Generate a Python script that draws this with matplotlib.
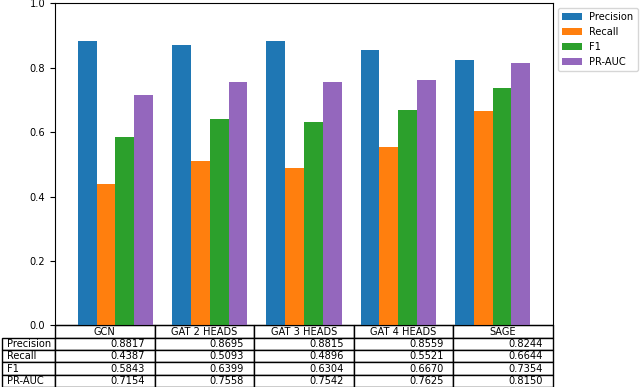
import matplotlib.pyplot as plt
import numpy as np

plt.rcParams['font.size'] = 7.1

models = ['GCN', 'GAT 2 HEADS', 'GAT 3 HEADS', 'GAT 4 HEADS', 'SAGE']
metrics = ['Precision', 'Recall', 'F1', 'PR-AUC']
precision = [0.8817, 0.8695, 0.8815, 0.8559, 0.8244]
recall = [0.4387, 0.5093, 0.4896, 0.5521, 0.6644]
f1 = [0.5843, 0.6399, 0.6304, 0.6670, 0.7354]
pr_auc = [0.7154, 0.7558, 0.7542, 0.7625, 0.8150]

series = [precision, recall, f1, pr_auc]
colors = ['#1f77b4', '#ff7f0e', '#2ca02c', '#9467bd']
x = np.arange(len(models))
width = 0.2

fig, ax = plt.subplots(figsize=(6.4, 3.87), dpi=100)
fig.subplots_adjust(left=0.086, right=0.864, top=0.992, bottom=0.159)

for i, (name, vals) in enumerate(zip(metrics, series)):
    ax.bar(x + (i - 1.5) * width, vals, width, label=name, color=colors[i])

ax.set_ylim(0, 1.0)
ax.set_xticks([])

cell_text = [['%.4f' % v for v in vals] for vals in series]
tab = ax.table(cellText=cell_text, rowLabels=metrics, colLabels=models, loc='bottom')
tab.auto_set_font_size(False)
tab.set_fontsize(7.1)
for (r, c), cell in tab.get_celld().items():
    cell.set_height(12.3 / 322.0)

ax.legend(loc='upper left', bbox_to_anchor=(1.0, 1.0))

fig.savefig('out.png')
